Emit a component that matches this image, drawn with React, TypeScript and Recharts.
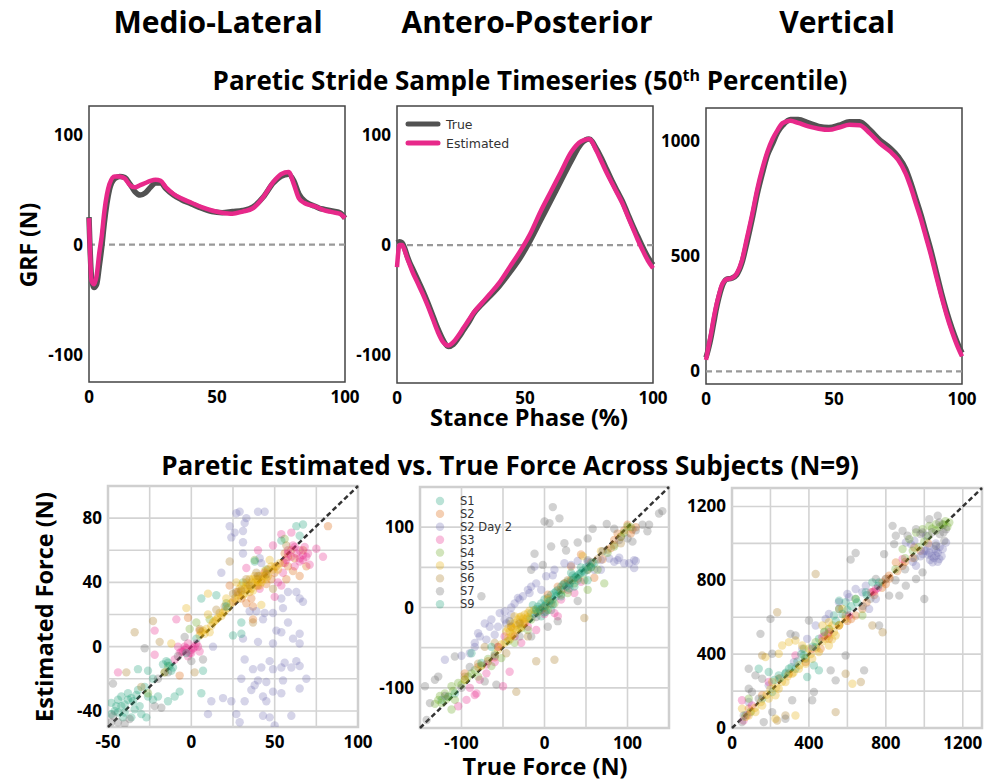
import React from "react";
import {
  LineChart,
  Line,
  ScatterChart,
  Scatter,
  XAxis,
  YAxis,
  ReferenceLine,
  ReferenceArea,
  Legend,
} from "recharts";

// stance phase (%) sample points shared by the three timeseries panels
const stance = [0, 1, 2, 3, 4, 5, 6, 8, 10, 12, 14, 16, 18, 20, 22, 24, 26, 28, 30, 33, 36, 40, 44, 48, 52, 56, 60, 64, 68, 72, 75, 78, 80, 82, 84, 86, 88, 90, 92, 94, 96, 98, 100];

const mlTrue = [25, -30, -39, -36, -20, -2, 20, 50, 60, 62, 61, 55, 48, 45, 47, 52, 56, 56, 51, 45, 41, 37, 33, 30, 29, 30, 31, 34, 43, 56, 62, 64, 58, 46, 40, 37, 35, 33, 32, 31, 30, 29, 24];
const mlEst = [24, -33, -36, -28, -8, 8, 30, 55, 62, 62, 60, 54, 52, 54, 56, 58, 59, 58, 52, 46, 42, 38, 34, 31, 29, 28, 30, 33, 43, 57, 64, 66, 55, 42, 38, 36, 35, 33, 31, 30, 29, 28, 24];

const apTrue = [2, 3, 2, -3, -10, -16, -21, -31, -41, -52, -64, -76, -86, -92, -90, -84, -77, -70, -62, -54, -47, -37, -25, -12, 4, 22, 40, 58, 76, 92, 96, 87, 78, 68, 58, 49, 40, 29, 18, 8, -2, -11, -18];
const apEst = [-20, 0, 0, -5, -12, -18, -24, -34, -44, -55, -67, -79, -88, -91, -88, -82, -75, -68, -61, -53, -45, -34, -20, -6, 10, 30, 48, 66, 84, 94, 96, 85, 75, 65, 56, 47, 38, 27, 16, 5, -5, -14, -21];

const vTrue = [60, 100, 150, 210, 270, 320, 360, 400, 405, 420, 470, 560, 660, 770, 860, 940, 990, 1040, 1070, 1095, 1095, 1080, 1065, 1060, 1070, 1085, 1085, 1050, 1005, 970, 935, 880, 820, 750, 680, 600, 520, 430, 340, 260, 190, 130, 80];
const vEst = [50, 110, 165, 230, 285, 330, 370, 400, 405, 425, 480, 580, 680, 790, 880, 955, 1010, 1050, 1080, 1090, 1080, 1065, 1055, 1050, 1060, 1072, 1070, 1035, 990, 955, 920, 860, 800, 730, 660, 580, 500, 410, 325, 245, 175, 115, 65];

const subjects = ["S1", "S2", "S2 Day 2", "S3", "S4", "S5", "S6", "S7", "S9"];
const subjectColors = ["#1b9e77", "#d95f02", "#7570b3", "#e7298a", "#66a61e", "#e6ab02", "#a6761d", "#666666", "#1b9e77"];

// medio-lateral [true, estimated]
const mlS1 = [[-48, -35], [-44, -33], [-42, -31], [-38, -29], [-36, -32], [-32, -27], [-31, -37], [-28, -25], [-26, -31], [-34, -39], [-40, -41], [-44, -41], [-30, -42], [-27, -44], [-23, -33], [-20, -31], [-14, -34], [-7, -28], [-10, -31], [-26, -15], [-32, -14], [-23, -20], [6, -29], [7, -15], [6, 30], [15, 32], [63, 75], [67, 76], [65, 69], [25, 7], [-46, -40], [-42, -37], [-40, -36], [-38, -33], [-35, -34], [-33, -30], [-45, -37], [-41, -44], [-36, -44], [-48, -42]];
const mlS2 = [[82, 75], [65, 44], [61, 47], [57, 42], [69, 50], [33, 27], [37, 25], [28, 34], [23, 38], [51, 50], [58, 56], [5, 10], [-2, 18], [-7, -18], [42, 42], [67, 60], [45, 39], [37, 17], [40, 38], [46, 48], [50, 46], [55, 52], [58, 50], [62, 55], [56, 58], [60, 60], [48, 42], [36, 30], [30, 30], [25, 28]];
const mlS2d2 = [[27, 83], [29, 84], [40, 84], [44, 84], [23, 75], [24, 68], [32, 77], [31, 72], [33, 80], [26, 71], [31, 65], [31, 58], [41, 55], [42, 52], [58, 34], [63, 34], [65, 30], [67, 28], [54, 30], [55, 24], [39, 22], [44, 21], [49, 21], [43, 17], [58, 15], [51, 10], [54, 9], [65, 8], [65, 2], [61, 5], [49, 2], [40, 3], [31, 5], [32, -8], [47, -9], [56, -10], [63, -9], [37, -14], [42, -13], [49, -14], [54, -13], [60, -13], [65, -12], [30, -20], [40, -21], [45, -22], [36, -27], [38, -24], [49, -28], [65, -26], [55, -21], [69, -20], [54, -29], [43, -31], [45, -34], [32, -34], [24, -34], [19, -32], [12, -34], [10, -42], [27, -42], [29, -47], [43, -43], [47, -44], [60, -43], [50, -49], [18, 46], [13, 0], [35, 22]];
const mlS3 = [[-4, -2], [-1, -4], [1, -1], [3, 2], [5, -3], [-2, -6], [-8, 0], [-7, -4], [-22, -5], [-22, 10], [-9, 17], [33, 49], [40, 60], [49, 63], [54, 70], [60, 71], [65, 60], [69, 56], [65, 53], [71, 51], [75, 61], [79, 56], [55, 46], [54, 38], [50, 31], [41, 36], [52, 40], [-44, -16], [-10, -8], [61, 63], [67, 54], [57, 54], [0, -2], [2, 0], [-3, -1], [-5, -3], [44, 46], [58, 58], [62, 50], [56, 52], [60, 56], [63, 58], [65, 55], [67, 57], [62, 62], [58, 60], [70, 58], [68, 62], [-6, -3], [-4, 0], [0, -4], [4, 0], [-2, 2]];
const mlS4 = [[3, 15], [-1, 11], [11, 17], [38, 54], [56, 67], [-14, -12], [-26, -29], [21, 27], [31, 40], [45, 48], [-16, -16]];
const mlS5 = [[29, 36], [33, 38], [37, 42], [41, 44], [45, 46], [35, 34], [31, 32], [27, 40], [39, 38], [43, 42], [49, 48], [53, 52], [47, 54], [24, 27], [21, 30], [17, 21], [13, 15], [9, 11], [6, 9], [11, 9], [5, 7], [15, 17], [19, 21], [10, 20], [-3, 24], [10, 33], [-12, 2], [42, 26], [36, 40], [40, 42], [32, 36], [30, 38], [34, 36], [38, 44], [44, 44], [28, 32], [26, 30], [28, 30], [30, 34], [32, 33], [34, 38], [36, 36], [38, 40], [40, 40], [42, 40], [44, 47], [46, 44], [48, 50], [50, 50], [52, 48], [35, 42], [33, 40], [37, 35], [39, 42], [41, 38], [43, 44], [45, 42], [22, 24], [20, 22], [18, 19], [16, 18], [14, 16], [12, 13], [8, 8], [7, 10]];
const mlS6 = [[-34, 9], [-23, 16], [-19, 3], [-39, -16], [23, 53], [37, 15], [2, -16], [27, 34], [39, 46], [49, 36], [5, 11], [15, 23], [33, 42], [-30, -25], [-16, -16], [57, 63], [30, 35], [35, 38], [40, 44], [45, 45], [20, 25], [25, 33]];
const mlS7 = [[-47, -23], [-47, -43], [-37, -45], [-22, -37], [-18, -38], [-28, -1], [-4, 6], [7, -8], [0, -9], [-48, -47], [-14, -16], [-44, -47], [-40, -48], [-20, -20], [-8, -6]];
const mlS9 = [[-17, -11], [-15, -9], [-12, -15], [-14, -10], [-13, -12], [-11, -13], [-3, -4], [3, 5], [30, 8], [30, 15], [21, 25], [38, 53], [54, 66]];

// antero-posterior [true, estimated]
const apS1 = [[-8, 1], [-4, 5], [0, 10], [4, 12], [8, 16], [12, 18], [16, 22], [20, 26], [24, 30], [28, 32], [36, 37], [44, 43], [52, 47], [-10, -5], [-4, -11], [2, -5], [8, -3], [-14, 3], [-16, -7], [60, 55], [-116, -111], [-108, -107], [-124, -115], [-18, -14], [-12, -8], [-6, -4], [-2, 0], [2, 4], [6, 6], [10, 10], [14, 14], [18, 18], [22, 22]];
const apS2 = [[100, 103], [106, 97], [92, 88], [84, 84], [80, 74], [44, 66], [32, 34], [16, 26], [4, 16], [-40, -24], [-56, -49], [-68, -67], [-96, -82], [32, 51], [60, 37], [-4, -3], [96, 96], [104, 92], [88, 92], [110, 100], [70, 60], [56, 56], [24, 30], [-24, -20], [-60, -62], [-80, -74]];
const apS2d2 = [[-120, -65], [-84, -49], [-80, -32], [-78, -36], [-72, -20], [-66, -24], [-60, -34], [-54, -7], [-48, -5], [-46, -20], [-36, 5], [-32, 12], [-26, 14], [-20, 22], [-4, 22], [2, 39], [12, 47], [24, 55], [32, 53], [52, 57], [68, 59], [78, 61], [88, 59], [96, 55], [108, 59], [108, 49], [102, 55], [84, 57], [-12, 51], [-90, -57], [-84, -44], [-64, -15], [-48, -15], [-16, 26], [-18, 18], [-40, -9], [60, 47], [68, 47], [-100, -60], [-70, -40], [-56, -24], [-30, 10], [-10, 30], [10, 40], [40, 58], [90, 62], [110, 58], [-40, 0]];
const apS3 = [[-104, -123], [-94, -115], [-84, -109], [-82, -107], [-50, -98], [-42, -80], [-28, -44], [-36, -36], [-56, -49], [-48, -36], [16, -11], [36, 18], [44, 32], [28, 22], [12, -7], [-70, -71], [-78, -90], [-10, -28], [-90, -100], [-70, -82], [-60, -68], [-20, -24], [0, -8], [20, 10]];
const apS4 = [[-128, -115], [-120, -107], [-116, -111], [-112, -98], [-104, -94], [-96, -90], [-88, -82], [-108, -115], [-124, -119], [-112, -127], [-52, -63], [-36, -44], [-20, -28], [4, -3], [12, 5], [28, 18], [48, 34], [64, 47], [84, 76], [100, 101], [96, 93], [-64, -73], [-80, -86], [-16, -15], [52, 22], [72, 30], [-132, -120], [-126, -110], [-118, -114], [-110, -104], [-100, -96], [-92, -86], [-84, -78], [-76, -72], [-68, -64], [-60, -58], [-44, -42], [-28, -26], [-8, -6], [20, 16], [36, 30], [56, 50], [76, 68], [92, 88], [104, 100]];
const apS5 = [[-40, -24], [-36, -20], [-32, -15], [-28, -11], [-24, -9], [-34, -28], [-36, -32], [-40, -36], [-28, -24], [-20, -7], [-42, -40], [-46, -30], [-36, -11], [68, 70], [46, 64], [-56, -53], [-76, -73], [-96, -90], [-12, -3], [4, 10], [-30, -18], [-26, -20], [-38, -26], [-22, -14], [-44, -38], [-42, -30], [-38, -34], [-34, -22], [-30, -26], [-30, -12], [-26, -14], [-24, -18], [-20, -12], [-18, -4], [-44, -26], [-40, -20], [-48, -44], [-52, -46]];
const apS6 = [[48, -13], [-10, -67], [12, -65], [-34, -105], [-46, -57], [-20, -36], [8, 5], [28, 34], [52, 47], [76, 72], [92, 80], [-72, -49], [-96, -86], [20, 22], [-80, -70], [-60, -44], [-30, -20], [0, 0], [40, 36], [64, 60], [84, 78]];
const apS7 = [[10, 125], [0, 107], [6, 105], [18, 111], [8, 76], [24, 80], [26, 71], [40, 81], [52, 86], [58, 98], [75, 104], [84, 98], [118, 103], [126, 103], [138, 117], [142, 120], [124, 95], [106, 82], [-12, 67], [-16, 47], [-2, 53], [-76, 14], [-108, -61], [-144, -98], [-138, -119], [-132, -90], [-128, -86], [-142, -140], [-58, -96], [-72, -92], [16, -17], [40, 8], [52, 59], [-16, -36], [-42, -17], [4, -24], [-120, -110], [-100, -100], [-90, -74], [-60, -60], [-30, -36], [-10, -12], [30, 28], [70, 70], [90, 84], [110, 96], [100, 86]];
const apS9 = [[36, 26], [32, 43], [-76, -69], [-88, -57], [-64, -49], [52, 34], [0, 2], [6, 8], [14, 20], [22, 28], [-6, -2], [40, 40], [48, 44], [56, 50], [26, 26], [30, 30], [34, 34], [38, 38], [42, 42], [46, 46], [50, 50], [54, 52], [58, 56], [-10, -2], [0, -6], [10, 4], [20, 14], [30, 24], [40, 34], [44, 50], [34, 40]];

// vertical [true, estimated]
const vS1 = [[70, 68], [96, 86], [157, 159], [209, 195], [243, 285], [278, 294], [330, 321], [296, 321], [383, 375], [435, 438], [452, 483], [504, 537], [530, 609], [557, 645], [591, 681], [643, 699]];
const vS2 = [[887, 879], [817, 825], [783, 789], [678, 645], [643, 609], [730, 735], [504, 483], [461, 429], [383, 357], [296, 294], [243, 267], [157, 177], [87, 105], [852, 897], [948, 978], [591, 609], [556, 555], [700, 680], [740, 720], [780, 760], [820, 810], [860, 850], [900, 900], [940, 920], [980, 960], [1020, 1000], [600, 580], [620, 590], [800, 780]];
const vS2d2 = [[904, 1005], [930, 996], [948, 1014], [1009, 1041], [1026, 987], [1052, 969], [1061, 933], [1078, 915], [1043, 897], [1096, 969], [1113, 1005], [1026, 951], [991, 942], [957, 879], [643, 753], [678, 735], [696, 771], [748, 699], [600, 726], [556, 681], [504, 618], [487, 591], [435, 555], [391, 483], [365, 429], [322, 357], [191, 231], [87, 141], [713, 645], [609, 708], [1040, 930], [1070, 950], [1010, 960], [1060, 1000], [1000, 960], [1020, 940], [1050, 920], [1070, 900], [1090, 930], [1030, 910], [980, 930], [1060, 960], [1080, 980], [940, 900]];
const vS3 = [[52, 150], [104, 122], [470, 492], [504, 519], [748, 753], [722, 735], [800, 807], [417, 429], [191, 249], [330, 393], [887, 915], [609, 609], [740, 740], [760, 760], [480, 500], [500, 510], [60, 40], [80, 70]];
const vS4 = [[957, 1059], [991, 1077], [1026, 1095], [1061, 1104], [1096, 1104], [1130, 1113], [922, 1023], [887, 969], [678, 609], [435, 465], [374, 429], [87, 159], [643, 699], [800, 807], [1040, 1080], [1110, 1120], [1000, 1010], [1020, 1040], [1060, 1070], [1080, 1090], [1100, 1100], [1120, 1090], [970, 980], [940, 960], [900, 920], [850, 860]];
const vS5 = [[52, 105], [87, 68], [122, 86], [157, 122], [191, 159], [226, 177], [243, 213], [209, 249], [278, 249], [313, 294], [348, 321], [383, 348], [417, 375], [400, 429], [365, 447], [330, 474], [296, 465], [261, 447], [452, 411], [487, 483], [504, 537], [522, 555], [556, 555], [539, 501], [574, 645], [470, 555], [504, 573], [174, 384], [626, 240], [504, 447], [243, 402], [330, 68], [226, 50], [180, 180], [200, 210], [230, 220], [260, 250], [290, 280], [320, 300], [350, 340], [380, 380], [410, 400], [440, 430], [470, 470], [500, 500], [530, 520], [560, 560], [590, 590], [520, 480], [480, 520], [150, 140], [120, 110], [100, 90], [70, 60]];
const vS6 = [[539, 86], [235, 41], [278, 68], [783, 519], [730, 555], [235, 627], [435, 834], [670, 249], [591, 294], [157, 393], [557, 645]];
const vS7 = [[835, 1095], [887, 1068], [913, 1041], [957, 1077], [991, 1059], [1026, 1131], [1070, 1150], [1078, 1113], [1113, 1077], [1104, 1014], [1061, 987], [991, 843], [957, 807], [904, 771], [870, 717], [1000, 699], [843, 996], [852, 1041], [643, 948], [617, 912], [791, 942], [400, 582], [200, 591], [148, 510], [304, 510], [330, 501], [209, 402], [87, 321], [122, 285], [157, 267], [87, 213], [104, 195], [139, 159], [165, 32], [209, 86], [278, 50], [426, 195], [417, 150], [313, 150], [591, 393], [687, 312], [539, 258], [513, 312], [765, 555], [817, 717], [748, 807], [61, 68], [52, 32], [1040, 1060], [1080, 1050], [1100, 1060], [980, 1050], [950, 920], [900, 860], [850, 800], [720, 700], [680, 660]];
const vS9 = [[696, 735], [765, 789], [557, 690], [574, 618], [391, 276], [452, 312], [191, 303], [139, 321], [426, 339], [730, 789], [374, 393], [220, 260], [250, 270], [280, 300], [310, 330], [340, 360], [360, 400], [420, 440], [480, 520], [540, 580], [600, 640], [650, 680], [700, 720], [760, 770], [620, 660]];

const FONT = "'Open Sans', 'Noto Sans', sans-serif";
const tickStyle = { fontFamily: FONT, fontSize: 17, fontWeight: 700, fill: "#000" };

const rows = (t: number[], e: number[]) => stance.map((s, i) => ({ s, t: t[i], e: e[i] }));
const pts = (p: number[][]) => p.map(([x, y]) => ({ x, y }));

const L = 60;
const T = 4;
const R = 22;
const XH = 32;

function StridePanel({ box, data, yDomain, yTicks, legend }: any) {
  const [x0, y0, x1, y1] = box;
  return (
    <div style={{ position: "absolute", left: x0 - L, top: y0 - T }}>
      <LineChart width={x1 - x0 + L + R} height={y1 - y0 + T + XH} data={data} margin={{ top: T, right: R, bottom: 0, left: 0 }}>
        <XAxis dataKey="s" type="number" domain={[0, 100]} ticks={[0, 50, 100]} axisLine={false} tickLine={false} tickSize={0} tickMargin={9} height={XH} tick={tickStyle} />
        <YAxis type="number" domain={yDomain} ticks={yTicks} allowDataOverflow width={L} axisLine={false} tickLine={false} tickSize={0} tickMargin={6} tick={tickStyle} />
        <ReferenceLine y={0} stroke="#999" strokeDasharray="6 4" strokeWidth={2.2} />
        <Line dataKey="t" type="monotone" stroke="#525252" strokeWidth={5.5} dot={false} isAnimationActive={false} />
        <Line dataKey="e" type="monotone" stroke="#e7298a" strokeWidth={4.5} dot={false} isAnimationActive={false} />
        <ReferenceArea x1={0} x2={100} y1={yDomain[0]} y2={yDomain[1]} fill="none" stroke="#444" strokeWidth={1.5} />
        {legend && (
          <Legend
            layout="vertical"
            align="center"
            verticalAlign="middle"
            wrapperStyle={{ left: 68, top: 14, width: 120 }}
            content={() => (
              <svg width={120} height={40}>
                {[["True", "#525252"], ["Estimated", "#e7298a"]].map(([n, c], i) => (
                  <g key={n}>
                    <line x1={3} x2={33} y1={8 + i * 19} y2={8 + i * 19} stroke={c} strokeWidth={5} strokeLinecap="round" />
                    <text x={41} y={12.5 + i * 19} fontFamily="'DejaVu Sans', sans-serif" fontSize={12.5} fill="#333">{n}</text>
                  </g>
                ))}
              </svg>
            )}
          />
        )}
      </LineChart>
    </div>
  );
}

const dot = (c: string) => (p: any) => <circle cx={p.cx} cy={p.cy} r={4.2} fill={c} fillOpacity={0.3} />;

function ForcePanel({ box, sets, domain, ticks, grid, legend }: any) {
  const [x0, y0, x1, y1] = box;
  const [dx, dy] = domain;
  const lo = Math.max(dx[0], dy[0]);
  const hi = Math.min(dx[1], dy[1]);
  return (
    <div style={{ position: "absolute", left: x0 - L, top: y0 - T }}>
      <ScatterChart width={x1 - x0 + L + R} height={y1 - y0 + T + XH} margin={{ top: T, right: R, bottom: 0, left: 0 }}>
        <XAxis dataKey="x" type="number" domain={dx} ticks={ticks[0]} allowDataOverflow axisLine={false} tickLine={false} tickSize={0} tickMargin={9} height={XH} tick={tickStyle} />
        <YAxis dataKey="y" type="number" domain={dy} ticks={ticks[1]} allowDataOverflow width={L} axisLine={false} tickLine={false} tickSize={0} tickMargin={6} tick={tickStyle} />
        {grid[0].map((v: number) => <ReferenceLine key={"gx" + v} x={v} stroke="#d3d3d3" strokeWidth={1.6} />)}
        {grid[1].map((v: number) => <ReferenceLine key={"gy" + v} y={v} stroke="#d3d3d3" strokeWidth={1.6} />)}
        <ReferenceArea x1={dx[0]} x2={dx[1]} y1={dy[0]} y2={dy[1]} fill="none" stroke="#cfcfcf" strokeWidth={2.5} />
        {sets.map((s: number[][], i: number) => (
          <Scatter key={subjects[i]} name={subjects[i]} data={pts(s)} fill={subjectColors[i]} shape={dot(subjectColors[i])} isAnimationActive={false} />
        ))}
        <ReferenceLine segment={[{ x: lo, y: lo }, { x: hi, y: hi }]} stroke="#333" strokeDasharray="5 3" strokeWidth={2.5} />
        {legend && (
          <Legend
            layout="vertical"
            align="center"
            verticalAlign="middle"
            wrapperStyle={{ left: 72, top: 12, width: 110 }}
            content={() => (
              <svg width={110} height={120}>
                {subjects.map((n, i) => (
                  <g key={n}>
                    <circle cx={8} cy={6 + i * 12.9} r={4.2} fill={subjectColors[i]} fillOpacity={0.3} />
                    <text x={28} y={10 + i * 12.9} fontFamily="'DejaVu Sans', sans-serif" fontSize={11.5} fill="#333">{n}</text>
                  </g>
                ))}
              </svg>
            )}
          />
        )}
      </ScatterChart>
    </div>
  );
}

function Label({ x, y, size, text, rotate }: any) {
  return (
    <div
      style={{
        position: "absolute",
        left: x,
        top: y,
        transform: `translate(-50%, -50%)${rotate ? " rotate(-90deg)" : ""}`,
        fontFamily: FONT,
        fontWeight: 700,
        fontSize: size,
        whiteSpace: "nowrap",
        lineHeight: 1,
        color: "#000",
      }}
    >
      {text}
    </div>
  );
}

export default function App() {
  return (
    <div style={{ position: "absolute", left: 0, top: 0, width: 984, height: 783, overflow: "hidden", background: "#fff" }}>
      <Label x={218} y={22} size={30} text="Medio-Lateral" />
      <Label x={527} y={22} size={30} text="Antero-Posterior" />
      <Label x={837} y={22} size={30} text="Vertical" />
      <Label
        x={530}
        y={80}
        size={26}
        text={
          <span>
            Paretic Stride Sample Timeseries (50<sup style={{ fontSize: 16, verticalAlign: "0.55em", lineHeight: 0 }}>th</sup> Percentile)
          </span>
        }
      />
      <Label x={28} y={245} size={23} text="GRF (N)" rotate />
      <Label x={529} y={418} size={23.5} text="Stance Phase (%)" />
      <Label x={510} y={465} size={26} text="Paretic Estimated vs. True Force Across Subjects (N=9)" />
      <Label x={45} y={607} size={23.5} text="Estimated Force (N)" rotate />
      <Label x={545} y={767} size={23.5} text="True Force (N)" />

      <StridePanel box={[89, 106, 345, 382]} data={rows(mlTrue, mlEst)} yDomain={[-125, 126]} yTicks={[-100, 0, 100]} />
      <StridePanel box={[397, 106, 653, 383]} data={rows(apTrue, apEst)} yDomain={[-125, 126]} yTicks={[-100, 0, 100]} legend />
      <StridePanel box={[706, 108, 962, 384]} data={rows(vTrue, vEst)} yDomain={[-55, 1145]} yTicks={[0, 500, 1000]} />

      <ForcePanel
        box={[108, 486, 358, 727]}
        sets={[mlS1, mlS2, mlS2d2, mlS3, mlS4, mlS5, mlS6, mlS7, mlS9]}
        domain={[[-50, 100], [-50, 100]]}
        ticks={[[-50, 0, 50, 100], [-40, 0, 40, 80]]}
        grid={[[-25, 0, 25, 50, 75], [-40, -20, 0, 20, 40, 60, 80]]}
      />
      <ForcePanel
        box={[420, 487, 669, 728]}
        sets={[apS1, apS2, apS2d2, apS3, apS4, apS5, apS6, apS7, apS9]}
        domain={[[-150, 150], [-150, 150]]}
        ticks={[[-100, 0, 100], [-100, 0, 100]]}
        grid={[[-100, -50, 0, 50, 100], [-100, -50, 0, 50, 100]]}
        legend
      />
      <ForcePanel
        box={[732, 488, 982, 728]}
        sets={[vS1, vS2, vS2d2, vS3, vS4, vS5, vS6, vS7, vS9]}
        domain={[[0, 1300], [0, 1300]]}
        ticks={[[0, 400, 800, 1200], [0, 400, 800, 1200]]}
        grid={[[200, 400, 600, 800, 1000, 1200], [200, 400, 600, 800, 1000, 1200]]}
      />
    </div>
  );
}
